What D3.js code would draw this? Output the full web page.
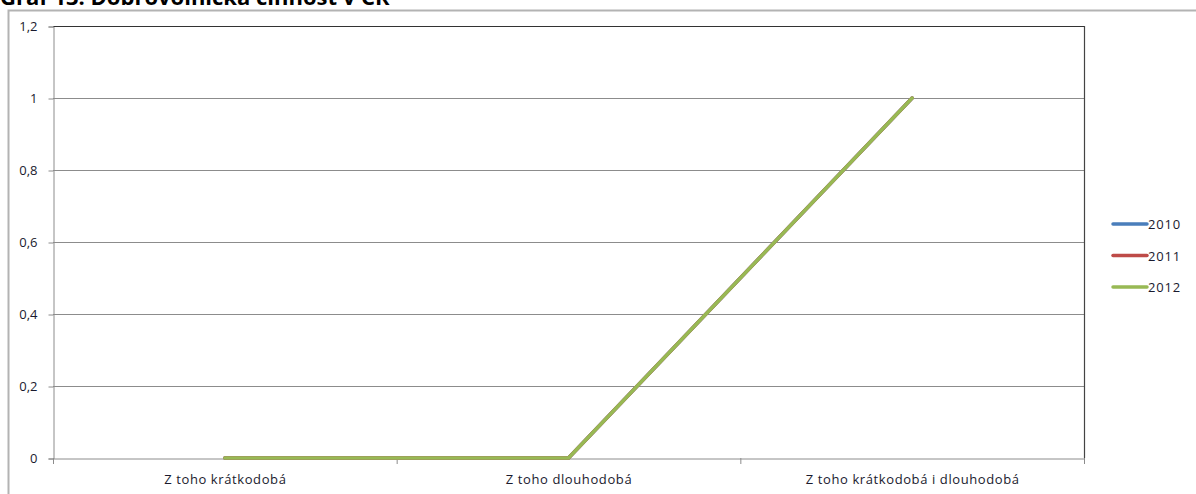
<!DOCTYPE html>
<html><head><meta charset="utf-8">
<script src="https://cdn.jsdelivr.net/npm/d3@7"></script>
<style>body{margin:0;background:#fff;}svg{display:block;}</style>
</head><body>
<svg id="c" width="1196" height="494"></svg>
<script>
const title = "Graf 13: Dobrovolnická činnost v ČR";
const categories = ["Z toho krátkodobá", "Z toho dlouhodobá", "Z toho krátkodobá i dlouhodobá"];
const seriesNames = ["2010", "2011", "2012"];
const values2010 = [0, 0, 1];
const values2011 = [0, 0, 1];
const values2012 = [0, 0, 1];
const yTicks = [0, 0.2, 0.4, 0.6, 0.8, 1, 1.2];
const colors = ["#4a7ebb", "#be4b48", "#98b954"];

const series = [values2010, values2011, values2012];
const svg = d3.select("#c");
const font = "'Open Sans', 'Noto Sans', sans-serif";

svg.append("text").attr("x", 0).attr("y", 5).attr("font-family", font)
  .attr("font-weight", "bold").attr("font-size", 22).attr("fill", "#000").text(title);

// outer frame
svg.append("rect").attr("x", 8.5).attr("y", 10.5).attr("width", 1200).attr("height", 500)
  .attr("fill", "none").attr("stroke", "#b3b3b3").attr("stroke-width", 2);

const L = 53, R = 1084, T = 26, B = 458;
const x = d3.scaleBand().domain(categories).range([L, R]);
const y = d3.scaleLinear().domain([0, 1.2]).range([B, T]);
const fmt = d => d3.format("")(d).replace(".", ",");

// gridlines
svg.append("g").selectAll("line").data(yTicks.filter(d => d > 0 && d < 1.2)).join("line")
  .attr("x1", L).attr("x2", R).attr("y1", d => y(d) + 0.5).attr("y2", d => y(d) + 0.5)
  .attr("stroke", "#8c8c8c").attr("stroke-width", 1);

// plot border top/right
svg.append("line").attr("x1", L).attr("x2", R + 0.5).attr("y1", T + 0.5).attr("y2", T + 0.5).attr("stroke", "#333").attr("stroke-width", 1.2);
svg.append("line").attr("x1", R + 0.5).attr("x2", R + 0.5).attr("y1", T).attr("y2", B).attr("stroke", "#444").attr("stroke-width", 1.2);

// y axis
const ya = svg.append("g").attr("transform", `translate(${L + 0.5},0.5)`)
  .call(d3.axisLeft(y).tickValues(yTicks).tickFormat(fmt).tickSize(5).tickPadding(11));
ya.select(".domain").attr("stroke", "#8c8c8c");
ya.selectAll(".tick line").attr("stroke", "#8c8c8c");
ya.selectAll("text").attr("font-family", font).attr("font-size", 13).attr("fill", "#1a1a2e");

// x axis
const xa = svg.append("g").attr("transform", `translate(0.5,${B + 0.5})`)
  .call(d3.axisBottom(x).tickSize(0).tickPadding(16));
xa.select(".domain").attr("stroke", "#8c8c8c");
xa.selectAll("text").attr("font-family", font).attr("font-size", 13).attr("letter-spacing", 0.6).attr("fill", "#1a1a2e");
const edges = [L].concat(categories.map(c => x(c) + x.bandwidth()));
svg.append("g").selectAll("line").data(edges).join("line")
  .attr("x1", d => d + 0.5).attr("x2", d => d + 0.5).attr("y1", B).attr("y2", B + 6)
  .attr("stroke", "#8c8c8c");

// lines
const line = d3.line().x((d, i) => x(categories[i]) + x.bandwidth() / 2).y(d => y(d));
series.forEach((s, i) => {
  svg.append("path").datum(s).attr("d", line).attr("fill", "none")
    .attr("stroke", colors[i]).attr("stroke-width", 3.5).attr("stroke-linecap", "round").attr("stroke-linejoin", "round");
});

// legend
const lg = svg.append("g");
seriesNames.forEach((n, i) => {
  const yy = 224 + i * 31.5;
  lg.append("line").attr("x1", 1113).attr("x2", 1147).attr("y1", yy).attr("y2", yy)
    .attr("stroke", colors[i]).attr("stroke-width", 3.5).attr("stroke-linecap", "round");
  lg.append("text").attr("x", 1148).attr("y", yy + 5).attr("font-family", font).attr("font-size", 13)
    .attr("letter-spacing", 0.8).attr("fill", "#1a1a2e").text(n);
});
</script>
</body></html>
